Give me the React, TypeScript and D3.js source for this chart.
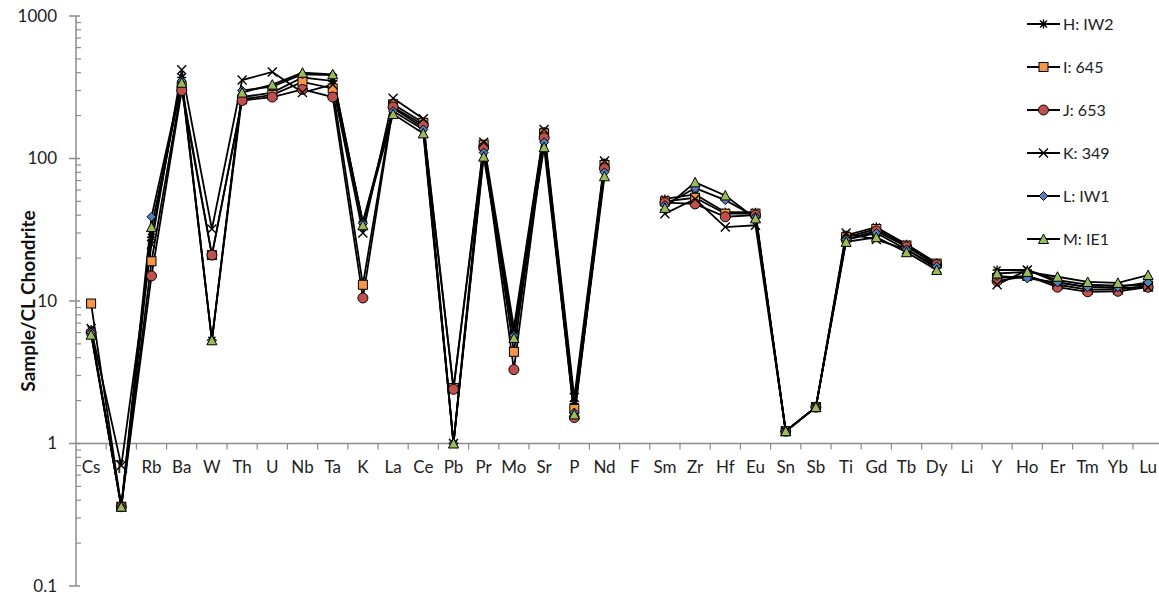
import React from "react";
import { scaleLog, scaleBand, line } from "d3";

const categories = [
  "Cs", "Tl", "Rb", "Ba", "W", "Th", "U", "Nb", "Ta", "K", "La", "Ce",
  "Pb", "Pr", "Mo", "Sr", "P", "Nd", "F", "Sm", "Zr", "Hf", "Eu", "Sn",
  "Sb", "Ti", "Gd", "Tb", "Dy", "Li", "Y", "Ho", "Er", "Tm", "Yb", "Lu",
];

// one value per category, null = not analysed (F, Li)
const seriesH = [6.3, 0.36, 28, 370, 5.3, 270, 290, 370, 350, 36, 225, 165, 1.0, 115, 6.0, 155, 1.9, 93, null, 52, 56, 42, 42, 1.22, 1.8, 29, 33, 25, 18.5, null, 16.5, 16.5, 14, 13, 12.8, 13];
const seriesI = [9.6, 0.36, 19, 320, 21, 260, 280, 345, 310, 13, 240, 178, 2.45, 125, 4.4, 150, 1.75, 90, null, 50, 53, 41, 41, 1.22, 1.8, 28, 32, 24.5, 18.3, null, 14.5, 15, 13, 12, 12, 12.8];
const seriesJ = [6.0, 0.36, 15, 300, 21, 255, 270, 305, 270, 10.5, 230, 172, 2.4, 120, 3.3, 140, 1.52, 85, null, 49, 48, 39, 40, 1.22, 1.8, 27, 31, 24, 18, null, 13.8, 15, 12.5, 11.6, 11.7, 12.5];
const seriesK = [6.4, 0.7, 25, 420, 32, 355, 405, 290, 330, 30, 265, 190, 1.0, 130, 6.5, 160, 2.1, 96, null, 41, 52, 33, 34, 1.22, 1.8, 30, 27, 23, 17, null, 13, 16.5, 13.5, 12.5, 12.3, 12.5];
const seriesL = [6.0, 0.36, 39, 350, 5.3, 300, 320, 390, 385, 35, 215, 160, 1.0, 110, 5.7, 130, 1.65, 80, null, 47, 62, 51, 39, 1.22, 1.8, 27, 30, 23, 17.5, null, 15, 14.4, 13.5, 12.5, 12.5, 13.5];
const seriesM = [5.8, 0.36, 33, 340, 5.3, 290, 330, 400, 390, 34, 205, 150, 1.0, 103, 5.5, 120, 1.6, 75, null, 45, 68, 55, 38, 1.22, 1.8, 26, 28, 22, 16.5, null, 15.6, 16, 14.8, 13.6, 13.4, 15.2];

const seriesNames = ["H: IW2", "I: 645", "J: 653", "K: 349", "L: IW1", "M: IE1"];
const yTicks = [0.1, 1, 10, 100, 1000];

const seriesList = [
  { name: seriesNames[0], values: seriesH, marker: "star", color: "#000" },
  { name: seriesNames[1], values: seriesI, marker: "square", color: "#F79646" },
  { name: seriesNames[2], values: seriesJ, marker: "circle", color: "#C0504D" },
  { name: seriesNames[3], values: seriesK, marker: "cross", color: "#000" },
  { name: seriesNames[4], values: seriesL, marker: "diamond", color: "#4F81BD" },
  { name: seriesNames[5], values: seriesM, marker: "triangle", color: "#9BBB59" },
];

function Marker({ type, color, x, y }) {
  const t = `translate(${x},${y})`;
  if (type === "square")
    return <rect transform={t} x={-4.5} y={-4.5} width={9} height={9} fill={color} stroke="#000" strokeWidth={1} />;
  if (type === "circle")
    return <circle transform={t} r={5} fill={color} stroke="#000" strokeWidth={1} />;
  if (type === "diamond")
    return <path transform={t} d="M0,-4.5L4.5,0L0,4.5L-4.5,0Z" fill={color} stroke="#000" strokeWidth={1} />;
  if (type === "triangle")
    return <path transform={t} d="M0,-5L5,4.5L-5,4.5Z" fill={color} stroke="#000" strokeWidth={1} />;
  if (type === "cross")
    return <path transform={t} d="M-4.5,-4.5L4.5,4.5M-4.5,4.5L4.5,-4.5" stroke="#000" strokeWidth={1.4} fill="none" />;
  // star / asterisk
  return <path transform={t} d="M-4.5,0H4.5M0,-4.5V4.5M-3.5,-3.5L3.5,3.5M-3.5,3.5L3.5,-3.5" stroke="#000" strokeWidth={1.4} fill="none" />;
}

export default function App() {
  const width = 1159;
  const height = 599;
  const left = 76;
  const band = 30.2;

  const x = scaleBand()
    .domain(categories)
    .range([left, left + categories.length * band])
    .padding(0);
  const y = scaleLog().domain([0.1, 1000]).range([586, 16]);
  const cx = (c) => x(c) + x.bandwidth() / 2;

  const minorTicks = [];
  for (let d = 0.1; d < 1000; d *= 10) {
    for (let k = 2; k <= 9; k++) minorTicks.push(d * k);
  }

  const lineGen = line()
    .defined((d) => d != null)
    .x((d, i) => cx(categories[i]))
    .y((d) => y(d));

  const font = "Lato, 'Open Sans', sans-serif";
  const axisColor = "#8c8c8c";

  return (
    <div style={{ position: "absolute", left: 0, top: 0 }}>
      <svg width={width} height={height} style={{ display: "block", background: "#fff" }} fontFamily={font}>
        {/* y axis */}
        <line x1={left} x2={left} y1={y(1000)} y2={y(0.1)} stroke={axisColor} strokeWidth={1.5} />
        {yTicks.map((t) => (
          <g key={t} transform={`translate(0,${y(t)})`}>
            <line x1={left - 7} x2={left + 4} stroke={axisColor} strokeWidth={1.5} />
            <text x={57} dy=".35em" textAnchor="end" fontSize={17} fill="#222">
              {t}
            </text>
          </g>
        ))}
        {minorTicks.map((t, i) => (
          <line key={i} x1={left} x2={left + 5} y1={y(t)} y2={y(t)} stroke={axisColor} strokeWidth={1.2} />
        ))}
        <text
          transform={`translate(35,${(y(1000) + y(0.1)) / 2}) rotate(-90)`}
          textAnchor="middle"
          fontSize={19}
          fontWeight="bold"
          fill="#111"
        >
          Sample/CL Chondrite
        </text>

        {/* x axis at 1 */}
        <line x1={left} x2={width} y1={y(1)} y2={y(1)} stroke={axisColor} strokeWidth={1.5} />
        {categories.map((c, i) => (
          <g key={c}>
            {i > 0 && (
              <line x1={x(c)} x2={x(c)} y1={y(1)} y2={y(1) + 6} stroke={axisColor} strokeWidth={1.2} />
            )}
            <text x={cx(c)} y={y(1) + 29} textAnchor="middle" fontSize={17} fill="#222">
              {c}
            </text>
          </g>
        ))}

        {/* lines */}
        {seriesList.map((s) => (
          <path key={s.name} d={lineGen(s.values)} fill="none" stroke="#000" strokeWidth={1.8} />
        ))}
        {/* markers */}
        {seriesList.map((s) => (
          <g key={s.name}>
            {s.values.map((v, i) =>
              v == null ? null : <Marker key={i} type={s.marker} color={s.color} x={cx(categories[i])} y={y(v)} />
            )}
          </g>
        ))}

        {/* legend */}
        {seriesList.map((s, i) => {
          const ly = 24 + i * 43;
          return (
            <g key={s.name} transform={`translate(1027,${ly})`}>
              <line x1={0} x2={33} stroke="#000" strokeWidth={1.8} />
              <Marker type={s.marker} color={s.color} x={16.5} y={0} />
              <text x={36} dy=".35em" fontSize={16} fill="#222">
                {s.name}
              </text>
            </g>
          );
        })}
      </svg>
    </div>
  );
}
